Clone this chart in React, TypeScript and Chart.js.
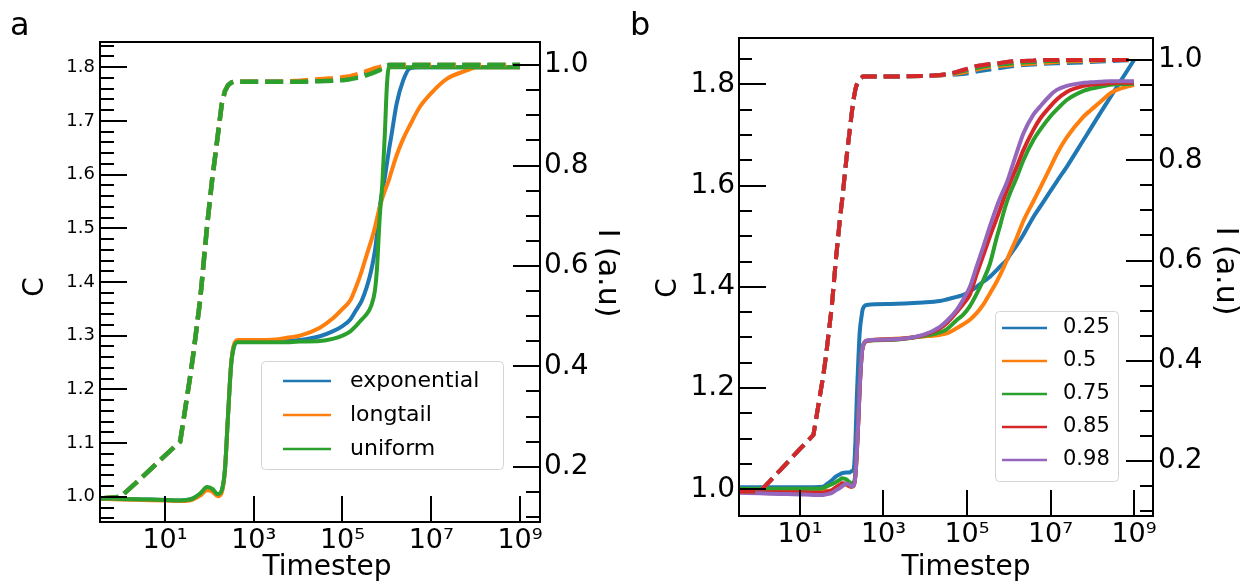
import { useEffect, useRef } from "react";
import { Chart, registerables } from "chart.js";

Chart.register(...registerables);

const FONT = '"DejaVu Sans", sans-serif';

const BLUE = "#1f77b4";
const ORANGE = "#ff7f0e";
const GREEN = "#2ca02c";
const RED = "#d62728";
const PURPLE = "#9467bd";

// ---------- panel a: interval distributions ----------
const timestepsA = [0.35, 1, 3.2, 10, 22, 36, 43, 62, 89, 115, 155, 190, 224, 263, 309, 355, 437, 1e3, 3.2e3, 6.6e3, 1.1e4, 3.1e4, 6e4, 1e5, 1.5e5, 2e5, 2.7e5, 3.5e5, 4.4e5, 5.4e5, 6e5, 6.9e5, 7.9e5, 9e5, 1e6, 1.11e6, 1.26e6, 1.66e6, 2.34e6, 3.31e6, 5.5e6, 1e7, 2.2e7, 6.3e7, 1.05e8, 3.2e8, 1e9];

const exponentialC = [0.997, 0.996, 0.995, 0.994, 0.993, 0.995, 0.997, 1.005, 1.016, 1.014, 1.004, 1.011, 1.049, 1.15, 1.245, 1.279, 1.289, 1.289, 1.29, 1.291, 1.292, 1.299, 1.308, 1.318, 1.33, 1.347, 1.365, 1.39, 1.42, 1.459, 1.49, 1.539, 1.57, 1.595, 1.62, 1.645, 1.672, 1.732, 1.776, 1.798, 1.8, 1.8, 1.8, 1.8, 1.8, 1.8, 1.8];
const longtailC = [0.996, 0.995, 0.994, 0.993, 0.992, 0.993, 0.995, 1.002, 1.012, 1.01, 1.001, 1.008, 1.048, 1.15, 1.248, 1.282, 1.292, 1.292, 1.293, 1.297, 1.3, 1.315, 1.332, 1.35, 1.366, 1.39, 1.42, 1.45, 1.476, 1.502, 1.519, 1.539, 1.556, 1.57, 1.58, 1.59, 1.605, 1.636, 1.667, 1.692, 1.726, 1.752, 1.778, 1.794, 1.8, 1.8, 1.8];
const uniformC = [0.997, 0.996, 0.995, 0.994, 0.993, 0.995, 0.997, 1.006, 1.018, 1.015, 1.005, 1.012, 1.05, 1.15, 1.245, 1.278, 1.288, 1.288, 1.288, 1.288, 1.289, 1.29, 1.294, 1.3, 1.308, 1.318, 1.33, 1.34, 1.355, 1.385, 1.427, 1.521, 1.583, 1.676, 1.765, 1.8, 1.8, 1.8, 1.8, 1.8, 1.8, 1.8, 1.8, 1.8, 1.8, 1.8, 1.8];

const exponentialI = [0.137, 0.14, 0.181, 0.222, 0.25, 0.373, 0.421, 0.532, 0.68, 0.77, 0.86, 0.922, 0.948, 0.96, 0.965, 0.967, 0.967, 0.967, 0.967, 0.967, 0.967, 0.969, 0.97, 0.972, 0.974, 0.977, 0.98, 0.984, 0.987, 0.99, 0.991, 0.993, 0.996, 0.998, 1, 1, 1, 1, 1, 1, 1, 1, 1, 1, 1, 1, 1];
const longtailI = [0.137, 0.14, 0.181, 0.222, 0.25, 0.373, 0.421, 0.532, 0.68, 0.77, 0.86, 0.922, 0.948, 0.96, 0.965, 0.967, 0.967, 0.967, 0.967, 0.968, 0.969, 0.972, 0.974, 0.976, 0.978, 0.981, 0.984, 0.988, 0.991, 0.994, 0.995, 0.996, 0.998, 1, 1, 1, 1, 1, 1, 1, 1, 1, 1, 1, 1, 1, 1];
const uniformI = [0.137, 0.14, 0.181, 0.222, 0.25, 0.373, 0.421, 0.532, 0.68, 0.77, 0.86, 0.922, 0.948, 0.96, 0.965, 0.967, 0.967, 0.967, 0.967, 0.967, 0.967, 0.968, 0.969, 0.97, 0.972, 0.974, 0.976, 0.98, 0.983, 0.986, 0.988, 0.99, 0.994, 0.997, 0.999, 1, 1, 1, 1, 1, 1, 1, 1, 1, 1, 1, 1];

const namesA = ["exponential", "longtail", "uniform"];

// ---------- panel b: parameter sweep ----------
const timestepsB = [0.35, 1.1, 3.2, 10, 21, 36, 42, 58, 72, 91, 102, 132, 148, 174, 195, 214, 229, 251, 269, 302, 316, 398, 1450, 8900, 2.24e4, 3.24e4, 5.62e4, 8.13e4, 1.175e5, 1.7e5, 2.45e5, 3.55e5, 5.13e5, 6.17e5, 7.41e5, 8.91e5, 1.07e6, 1.55e6, 2.24e6, 3.89e6, 5.62e6, 9.77e6, 1.41e7, 2.45e7, 6.17e7, 8.9e7, 1.55e8, 2.69e8, 3.89e8, 1e9];

const c025 = [1.004, 1.004, 1.004, 1.004, 1.004, 1.005, 1.009, 1.018, 1.025, 1.03, 1.032, 1.033, 1.033, 1.036, 1.041, 1.1, 1.18, 1.26, 1.31, 1.345, 1.355, 1.364, 1.366, 1.369, 1.372, 1.375, 1.38, 1.384, 1.391, 1.4, 1.41, 1.42, 1.433, 1.44, 1.446, 1.453, 1.463, 1.482, 1.503, 1.538, 1.558, 1.588, 1.608, 1.637, 1.69, 1.711, 1.743, 1.774, 1.795, 1.848];
const c050 = [0.996, 0.996, 0.996, 0.995, 0.995, 0.995, 0.997, 0.998, 1.003, 1.008, 1.01, 1.009, 1.006, 1.005, 1.008, 1.03, 1.07, 1.14, 1.2, 1.268, 1.28, 1.293, 1.297, 1.302, 1.305, 1.308, 1.318, 1.326, 1.335, 1.348, 1.365, 1.387, 1.41, 1.423, 1.437, 1.452, 1.467, 1.497, 1.53, 1.569, 1.595, 1.635, 1.662, 1.695, 1.736, 1.748, 1.765, 1.782, 1.789, 1.799];
const c075 = [1.001, 1.001, 1.001, 1.001, 1.001, 1.002, 1.005, 1.01, 1.014, 1.019, 1.022, 1.019, 1.015, 1.012, 1.014, 1.035, 1.075, 1.145, 1.205, 1.27, 1.281, 1.293, 1.295, 1.303, 1.31, 1.316, 1.334, 1.345, 1.362, 1.386, 1.413, 1.446, 1.497, 1.52, 1.545, 1.567, 1.585, 1.616, 1.65, 1.69, 1.71, 1.736, 1.75, 1.769, 1.787, 1.791, 1.795, 1.799, 1.8, 1.801];
const c085 = [0.995, 0.994, 0.994, 0.994, 0.993, 0.993, 0.995, 0.998, 1.004, 1.009, 1.012, 1.01, 1.007, 1.005, 1.008, 1.03, 1.07, 1.14, 1.2, 1.268, 1.28, 1.293, 1.296, 1.304, 1.318, 1.328, 1.35, 1.366, 1.385, 1.425, 1.462, 1.5, 1.535, 1.553, 1.572, 1.59, 1.605, 1.637, 1.67, 1.71, 1.732, 1.756, 1.77, 1.785, 1.797, 1.799, 1.801, 1.802, 1.803, 1.803];
const c098 = [0.993, 0.992, 0.991, 0.99, 0.989, 0.989, 0.99, 0.993, 0.998, 1.003, 1.006, 1.011, 1.01, 1.006, 1.008, 1.03, 1.07, 1.14, 1.2, 1.268, 1.28, 1.294, 1.296, 1.305, 1.321, 1.332, 1.354, 1.375, 1.4, 1.44, 1.479, 1.52, 1.558, 1.575, 1.59, 1.605, 1.624, 1.665, 1.703, 1.74, 1.756, 1.778, 1.789, 1.797, 1.803, 1.804, 1.805, 1.806, 1.806, 1.806];

const i025 = [0.139, 0.139, 0.18, 0.224, 0.252, 0.37, 0.41, 0.51, 0.6, 0.685, 0.72, 0.81, 0.845, 0.895, 0.925, 0.943, 0.951, 0.957, 0.961, 0.965, 0.967, 0.967, 0.967, 0.968, 0.969, 0.97, 0.971, 0.972, 0.974, 0.977, 0.979, 0.981, 0.983, 0.984, 0.985, 0.986, 0.987, 0.989, 0.99, 0.991, 0.992, 0.993, 0.9935, 0.994, 0.995, 0.996, 0.997, 0.998, 0.9985, 1];
const i050 = [0.139, 0.139, 0.18, 0.224, 0.252, 0.37, 0.41, 0.51, 0.6, 0.685, 0.72, 0.81, 0.845, 0.895, 0.925, 0.943, 0.951, 0.957, 0.961, 0.965, 0.967, 0.967, 0.967, 0.968, 0.969, 0.971, 0.973, 0.975, 0.978, 0.981, 0.984, 0.986, 0.987, 0.988, 0.989, 0.989, 0.99, 0.991, 0.992, 0.993, 0.994, 0.995, 0.996, 0.997, 0.998, 0.998, 0.999, 1, 1, 1];
const i075 = [0.139, 0.139, 0.18, 0.224, 0.252, 0.37, 0.41, 0.51, 0.6, 0.685, 0.72, 0.81, 0.845, 0.895, 0.925, 0.943, 0.951, 0.957, 0.961, 0.965, 0.967, 0.967, 0.967, 0.968, 0.97, 0.971, 0.975, 0.978, 0.981, 0.984, 0.987, 0.989, 0.99, 0.991, 0.992, 0.992, 0.993, 0.994, 0.995, 0.996, 0.997, 0.998, 0.998, 0.999, 1, 1, 1, 1, 1, 1];
const i085 = [0.139, 0.139, 0.18, 0.224, 0.252, 0.37, 0.41, 0.51, 0.6, 0.685, 0.72, 0.81, 0.845, 0.895, 0.925, 0.943, 0.951, 0.957, 0.961, 0.965, 0.967, 0.967, 0.967, 0.968, 0.97, 0.972, 0.976, 0.98, 0.984, 0.988, 0.99, 0.992, 0.993, 0.994, 0.995, 0.996, 0.997, 0.998, 0.998, 0.999, 1, 1, 1, 1, 1, 1, 1, 1, 1, 1];
const i098 = [0.139, 0.139, 0.18, 0.224, 0.252, 0.37, 0.41, 0.51, 0.6, 0.685, 0.72, 0.81, 0.845, 0.895, 0.925, 0.943, 0.951, 0.957, 0.961, 0.965, 0.967, 0.967, 0.967, 0.968, 0.97, 0.972, 0.976, 0.98, 0.984, 0.988, 0.99, 0.992, 0.993, 0.994, 0.995, 0.996, 0.997, 0.998, 0.998, 0.999, 1, 1, 1, 1, 1, 1, 1, 1, 1, 1];

const namesB = ["0.25", "0.5", "0.75", "0.85", "0.98"];

// ---------- axis ticks ----------
const xTickValues = [1e1, 1e3, 1e5, 1e7, 1e9];
const xTickLabels = ["10\u00b9", "10\u00b3", "10\u2075", "10\u2077", "10\u2079"];
const cTicksA = [1.0, 1.1, 1.2, 1.3, 1.4, 1.5, 1.6, 1.7, 1.8];
const cTicksB = [1.0, 1.2, 1.4, 1.6, 1.8];
const iTicks = [0.2, 0.4, 0.6, 0.8, 1.0];

// ---------- helpers ----------
function toPoints(xs: number[], ys: number[]) {
  return xs.map((x, i) => ({ x, y: ys[i] }));
}

type Series = { label: string; xs: number[]; ys: number[]; color: string; axis: string; dashed: boolean };

function buildDatasets(list: Series[], solidWidth: number, dashWidth: number, dash: number[]) {
  const n = list.length;
  return list.map((s, i) => ({
    label: s.label,
    data: toPoints(s.xs, s.ys),
    yAxisID: s.axis,
    borderColor: s.color,
    backgroundColor: s.color,
    borderWidth: s.dashed ? dashWidth : solidWidth,
    borderDash: s.dashed ? dash : [],
    borderCapStyle: "butt" as const,
    borderJoinStyle: "round" as const,
    pointRadius: 0,
    pointHoverRadius: 0,
    fill: false,
    // solid curves smoothed, dashed curves keep their sharp onset
    cubicInterpolationMode: s.dashed ? ("default" as const) : ("monotone" as const),
    tension: 0,
    order: n - i,
  }));
}

type FrameCfg = {
  leftMajor: number[];
  leftMinorStep: number;
  rightMajor: number[];
  rightMinorStep: number;
  xMajor: number[];
  majorLen: number;
  minorLen: number;
  xLen: number;
};

// box around the plot area, with inward-pointing tick marks
function framePlugin(cfg: FrameCfg) {
  return {
    id: "frameTicks",
    afterDatasetsDraw(chart: any) {
      const { ctx, chartArea } = chart;
      const { left, right, top, bottom } = chartArea;
      const yl = chart.scales.yC;
      const yr = chart.scales.yI;
      const xs = chart.scales.x;
      ctx.save();
      ctx.strokeStyle = "#000";
      ctx.lineWidth = 2;
      ctx.lineCap = "butt";
      const seg = (x1: number, y1: number, x2: number, y2: number) => {
        ctx.beginPath();
        ctx.moveTo(x1, y1);
        ctx.lineTo(x2, y2);
        ctx.stroke();
      };
      const near = (v: number, arr: number[]) => arr.some((m) => Math.abs(m - v) < 1e-6);
      const minorLoop = (scale: any, step: number, majors: number[], cb: (p: number, major: boolean) => void) => {
        const k0 = Math.ceil(scale.min / step - 1e-9);
        const k1 = Math.floor(scale.max / step + 1e-9);
        for (let k = k0; k <= k1; k++) {
          const v = k * step;
          cb(Math.round(scale.getPixelForValue(v)), near(v, majors));
        }
      };
      minorLoop(yl, cfg.leftMinorStep, cfg.leftMajor, (p, major) => {
        if (p <= top + 1 || p >= bottom - 1) return;
        seg(left, p, left + (major ? cfg.majorLen : cfg.minorLen), p);
      });
      minorLoop(yr, cfg.rightMinorStep, cfg.rightMajor, (p, major) => {
        if (p <= top + 1 || p >= bottom - 1) return;
        seg(right, p, right - (major ? cfg.majorLen : cfg.minorLen), p);
      });
      for (const v of cfg.xMajor) {
        const p = Math.round(xs.getPixelForValue(v));
        seg(p, bottom, p, bottom - cfg.xLen);
      }
      ctx.strokeRect(left, top, right - left, bottom - top);
      ctx.restore();
    },
  };
}

type LegendCfg = {
  box: { x: number; y: number; w: number; h: number };
  rows: { label: string; color: string }[];
  rowY: number[];
  lineX: [number, number];
  textX: number;
  font: string;
};

function legendPlugin(cfg: LegendCfg) {
  return {
    id: "boxLegend",
    afterDraw(chart: any) {
      const ctx = chart.ctx;
      const { x, y, w, h } = cfg.box;
      ctx.save();
      ctx.beginPath();
      if (ctx.roundRect) ctx.roundRect(x + 0.5, y + 0.5, w, h, 4);
      else ctx.rect(x + 0.5, y + 0.5, w, h);
      ctx.fillStyle = "rgba(255,255,255,0.85)";
      ctx.fill();
      ctx.strokeStyle = "#d4d4d4";
      ctx.lineWidth = 1;
      ctx.stroke();
      cfg.rows.forEach((r, i) => {
        const ry = cfg.rowY[i];
        ctx.strokeStyle = r.color;
        ctx.lineWidth = 2.5;
        ctx.beginPath();
        ctx.moveTo(cfg.lineX[0], ry);
        ctx.lineTo(cfg.lineX[1], ry);
        ctx.stroke();
        ctx.fillStyle = "#000";
        ctx.font = cfg.font;
        ctx.textAlign = "left";
        ctx.textBaseline = "middle";
        ctx.fillText(r.label, cfg.textX, ry);
      });
      ctx.restore();
    },
  };
}

type TextItem = { text: string; x: number; y: number; rot: number; font: string; align: CanvasTextAlign };

function textPlugin(items: TextItem[]) {
  return {
    id: "axisTexts",
    afterDraw(chart: any) {
      const ctx = chart.ctx;
      for (const t of items) {
        ctx.save();
        ctx.translate(t.x, t.y);
        ctx.rotate(t.rot);
        ctx.font = t.font;
        ctx.fillStyle = "#000";
        ctx.textAlign = t.align;
        ctx.textBaseline = "alphabetic";
        ctx.fillText(t.text, 0, 0);
        ctx.restore();
      }
    },
  };
}

type PanelCfg = {
  datasets: any[];
  xMin: number;
  xMax: number;
  cMin: number;
  cMax: number;
  iMin: number;
  iMax: number;
  cTicks: number[];
  cFont: { family: string; size: number };
  leftW: number;
  rightW: number;
  bottomH: number;
  top: number;
  leftPad: number;
  rightPad: number;
  plugins: any[];
};

function makeConfig(p: PanelCfg): any {
  const common = {
    grid: { display: false, drawTicks: false },
    border: { display: false },
  };
  return {
    type: "line",
    data: { datasets: p.datasets },
    plugins: p.plugins,
    options: {
      animation: false,
      responsive: false,
      devicePixelRatio: 1,
      parsing: true,
      normalized: true,
      events: [],
      layout: { padding: { top: p.top, left: 0, right: 0, bottom: 0 } },
      plugins: { legend: { display: false }, tooltip: { enabled: false }, title: { display: false } },
      scales: {
        x: {
          ...common,
          type: "logarithmic",
          min: p.xMin,
          max: p.xMax,
          bounds: "data",
          ticks: {
            autoSkip: false,
            maxRotation: 0,
            minRotation: 0,
            padding: 3,
            color: "#000",
            font: { family: FONT, size: 27 },
            callback: (_v: any, idx: number) => xTickLabels[idx],
          },
          afterBuildTicks: (s: any) => {
            s.ticks = xTickValues.map((v) => ({ value: v }));
          },
          afterFit: (s: any) => {
            s.height = p.bottomH;
          },
        },
        yC: {
          ...common,
          type: "linear",
          position: "left",
          min: p.cMin,
          max: p.cMax,
          bounds: "data",
          ticks: {
            padding: p.leftPad,
            color: "#000",
            font: p.cFont,
            callback: (v: any) => Number(v).toFixed(1),
          },
          afterBuildTicks: (s: any) => {
            s.ticks = p.cTicks.map((v) => ({ value: v }));
          },
          afterFit: (s: any) => {
            s.width = p.leftW;
          },
        },
        yI: {
          ...common,
          type: "linear",
          position: "right",
          min: p.iMin,
          max: p.iMax,
          bounds: "data",
          ticks: {
            padding: p.rightPad,
            color: "#000",
            font: { family: FONT, size: 28 },
            callback: (v: any) => Number(v).toFixed(1),
          },
          afterBuildTicks: (s: any) => {
            s.ticks = iTicks.map((v) => ({ value: v }));
          },
          afterFit: (s: any) => {
            s.width = p.rightW;
          },
        },
      },
    },
  };
}

function panelA(): any {
  const series: Series[] = [
    { label: namesA[0], xs: timestepsA, ys: exponentialC, color: BLUE, axis: "yC", dashed: false },
    { label: namesA[1], xs: timestepsA, ys: longtailC, color: ORANGE, axis: "yC", dashed: false },
    { label: namesA[2], xs: timestepsA, ys: uniformC, color: GREEN, axis: "yC", dashed: false },
    { label: namesA[0] + " I", xs: timestepsA, ys: exponentialI, color: BLUE, axis: "yI", dashed: true },
    { label: namesA[1] + " I", xs: timestepsA, ys: longtailI, color: ORANGE, axis: "yI", dashed: true },
    { label: namesA[2] + " I", xs: timestepsA, ys: uniformI, color: GREEN, axis: "yI", dashed: true },
  ];
  return makeConfig({
    datasets: buildDatasets(series, 4, 4.5, [18, 7]),
    xMin: 0.3436,
    xMax: 2.82e9,
    cMin: 0.953,
    cMax: 1.847,
    iMin: 0.09,
    iMax: 1.046,
    cTicks: cTicksA,
    cFont: { family: FONT, size: 18 },
    leftW: 100,
    rightW: 80,
    bottomH: 62,
    top: 42,
    leftPad: 5,
    rightPad: 4,
    plugins: [
      framePlugin({
        leftMajor: cTicksA,
        leftMinorStep: 0.02,
        rightMajor: iTicks,
        rightMinorStep: 0.05,
        xMajor: xTickValues,
        majorLen: 27,
        minorLen: 14,
        xLen: 26,
      }),
      legendPlugin({
        box: { x: 261, y: 361, w: 242, h: 108 },
        rows: [
          { label: namesA[0], color: BLUE },
          { label: namesA[1], color: ORANGE },
          { label: namesA[2], color: GREEN },
        ],
        rowY: [381, 415, 449],
        lineX: [283, 331],
        textX: 350,
        font: `22px ${FONT}`,
      }),
      textPlugin([
        { text: "a", x: 10, y: 35, rot: 0, font: `32px ${FONT}`, align: "left" },
        { text: "Timestep", x: 327, y: 575, rot: 0, font: `28px ${FONT}`, align: "center" },
        { text: "C", x: 43, y: 287, rot: -Math.PI / 2, font: `28px ${FONT}`, align: "center" },
        { text: "I (a.u)", x: 599, y: 273, rot: Math.PI / 2, font: `30px ${FONT}`, align: "center" },
      ]),
    ],
  });
}

function panelB(): any {
  const cs = [c025, c050, c075, c085, c098];
  const is = [i025, i050, i075, i085, i098];
  const colors = [BLUE, ORANGE, GREEN, RED, PURPLE];
  const series: Series[] = [];
  cs.forEach((ys, k) => series.push({ label: namesB[k], xs: timestepsB, ys, color: colors[k], axis: "yC", dashed: false }));
  // dashed intensity curves; 0.85 painted last so it sits on top
  [0, 1, 2, 4, 3].forEach((k) =>
    series.push({ label: namesB[k] + " I", xs: timestepsB, ys: is[k], color: colors[k], axis: "yI", dashed: true })
  );
  return makeConfig({
    datasets: buildDatasets(series, 4, 4, [16, 7]),
    xMin: 0.346,
    xMax: 2.85e9,
    cMin: 0.9473,
    cMax: 1.8915,
    iMin: 0.0903,
    iMax: 1.0439,
    cTicks: cTicksB,
    cFont: { family: FONT, size: 28 },
    leftW: 119,
    rightW: 98,
    bottomH: 68,
    top: 38,
    leftPad: 4,
    rightPad: 5,
    plugins: [
      framePlugin({
        leftMajor: cTicksB,
        leftMinorStep: 0.05,
        rightMajor: iTicks,
        rightMinorStep: 0.05,
        xMajor: xTickValues,
        majorLen: 27,
        minorLen: 13,
        xLen: 26,
      }),
      legendPlugin({
        box: { x: 375, y: 311, w: 123, h: 170 },
        rows: namesB.map((label, k) => ({ label, color: colors[k] })),
        rowY: [328, 361, 394, 427, 460],
        lineX: [382, 427],
        textX: 443,
        font: `21px ${FONT}`,
      }),
      textPlugin([
        { text: "b", x: 10, y: 35, rot: 0, font: `32px ${FONT}`, align: "left" },
        { text: "Timestep", x: 346, y: 575, rot: 0, font: `28px ${FONT}`, align: "center" },
        { text: "C", x: 56, y: 288, rot: -Math.PI / 2, font: `28px ${FONT}`, align: "center" },
        { text: "I (a.u)", x: 597, y: 271, rot: Math.PI / 2, font: `30px ${FONT}`, align: "center" },
      ]),
    ],
  });
}

export default function App() {
  const refA = useRef<HTMLCanvasElement | null>(null);
  const refB = useRef<HTMLCanvasElement | null>(null);

  useEffect(() => {
    if (!refA.current || !refB.current) return;
    const a = new Chart(refA.current, panelA());
    const b = new Chart(refB.current, panelB());
    return () => {
      a.destroy();
      b.destroy();
    };
  }, []);

  return (
    <div style={{ position: "absolute", left: 0, top: 0, width: 1251, height: 584, background: "#fff" }}>
      <canvas ref={refA} width={620} height={584} style={{ position: "absolute", left: 0, top: 0 }} />
      <canvas ref={refB} width={631} height={584} style={{ position: "absolute", left: 620, top: 0 }} />
    </div>
  );
}
